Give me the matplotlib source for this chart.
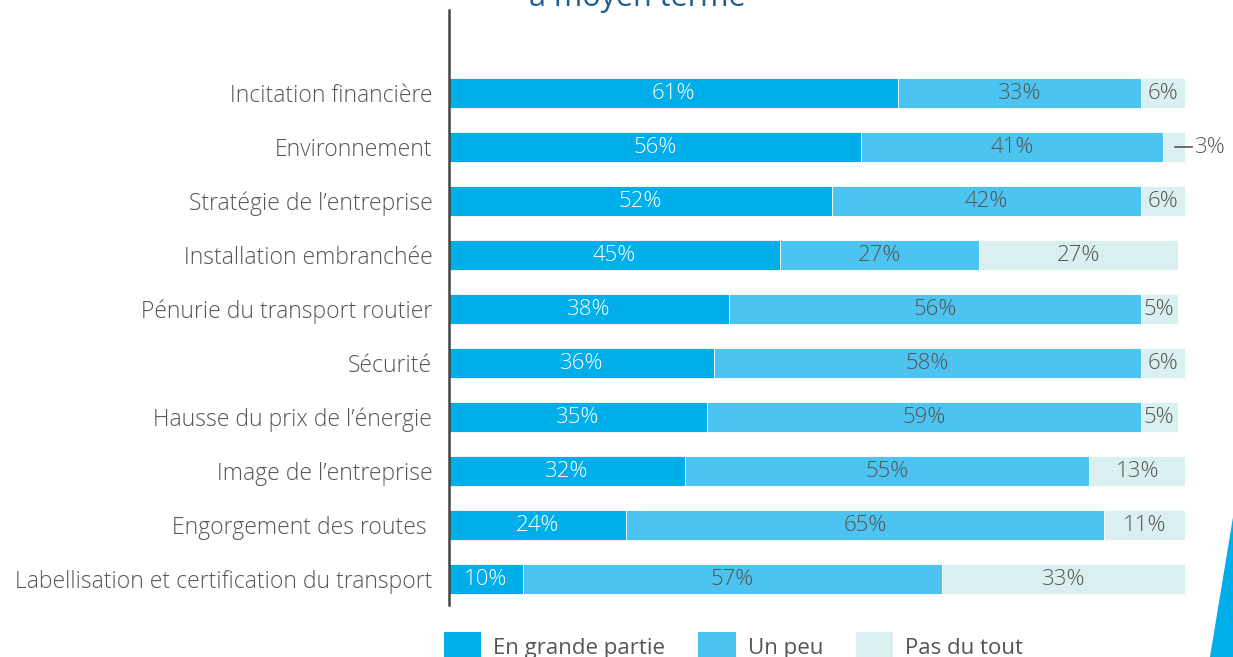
import matplotlib.pyplot as plt
from matplotlib.patches import Patch, Polygon

categories = [
    'Incitation financière',
    'Environnement',
    'Stratégie de l\u2019entreprise',
    'Installation embranchée',
    'Pénurie du transport routier',
    'Sécurité',
    'Hausse du prix de l\u2019énergie',
    'Image de l\u2019entreprise',
    'Engorgement des routes ',
    'Labellisation et certification du transport',
]
grande = [61, 56, 52, 45, 38, 36, 35, 32, 24, 10]
un_peu = [33, 41, 42, 27, 56, 58, 59, 55, 65, 57]
pas_du_tout = [6, 3, 6, 27, 5, 6, 5, 13, 11, 33]
series_names = ['En grande partie', 'Un peu', 'Pas du tout']

colors = ['#00aee9', '#4dc3ef', '#daeff0']
text_colors = ['white', '#555555', '#555555']
gray = '#555555'

plt.rcParams['font.family'] = ['Open Sans', 'DejaVu Sans']

fig = plt.figure(figsize=(12.33, 6.57), dpi=100)
ax = fig.add_axes([449 / 1233, 1 - 605 / 657, 736 / 1233, 595 / 657])

y = list(range(len(categories)))
left = [0] * len(categories)
for vals, col, tcol in zip([grande, un_peu, pas_du_tout], colors, text_colors):
    widths = [v / 100 for v in vals]
    ax.barh(y, widths, left=left, height=0.56, color=col, edgecolor='white', linewidth=0.6)
    for i, (l, w, v) in enumerate(zip(left, widths, vals)):
        if categories[i] == 'Environnement' and vals is pas_du_tout:
            # small value: label outside with a leader dash
            ax.plot([l + w - 0.013, l + w + 0.009], [i, i], color=gray, lw=1.2, clip_on=False)
            ax.text(l + w + 0.014, i, f'{v}%', ha='left', va='center', color=gray,
                    fontsize=16, fontweight='light')
            continue
        ax.text(l + w / 2, i, f'{v}%', ha='center', va='center', color=tcol,
                fontsize=16, fontweight='light')
    left = [l + w for l, w in zip(left, widths)]

ax.set_xlim(0, 1)
ax.set_ylim(9.48, -1.537)
ax.set_yticks(y)
ax.set_yticklabels(categories, fontsize=16.5, color=gray, fontweight='light')
ax.tick_params(axis='y', length=0, pad=12)
ax.set_xticks([])
for s in ['top', 'right', 'bottom']:
    ax.spines[s].set_visible(False)
ax.spines['left'].set_color('#444444')
ax.spines['left'].set_linewidth(1.8)

fig.text(637 / 1233, 1 - 6 / 657, 'à moyen terme', ha='center', va='baseline',
         fontsize=22, color='#1f5c96')

handles = [Patch(facecolor=c, edgecolor='none') for c in colors]
fig.legend(handles, series_names, loc='center left', bbox_to_anchor=(444 / 1233, 1 - 647 / 657),
           ncol=3, frameon=False, fontsize=16, labelcolor=gray,
           borderpad=0, borderaxespad=0,
           handlelength=1.67, handleheight=1.67, handletextpad=0.54, columnspacing=1.5)

fig.patches.append(Polygon([[1210 / 1233, 0], [1233 / 1233, 1 - 517 / 657], [1, 0]],
                           closed=True, transform=fig.transFigure, facecolor='#00aee9',
                           edgecolor='none'))

fig.savefig('out.png', dpi=100)
